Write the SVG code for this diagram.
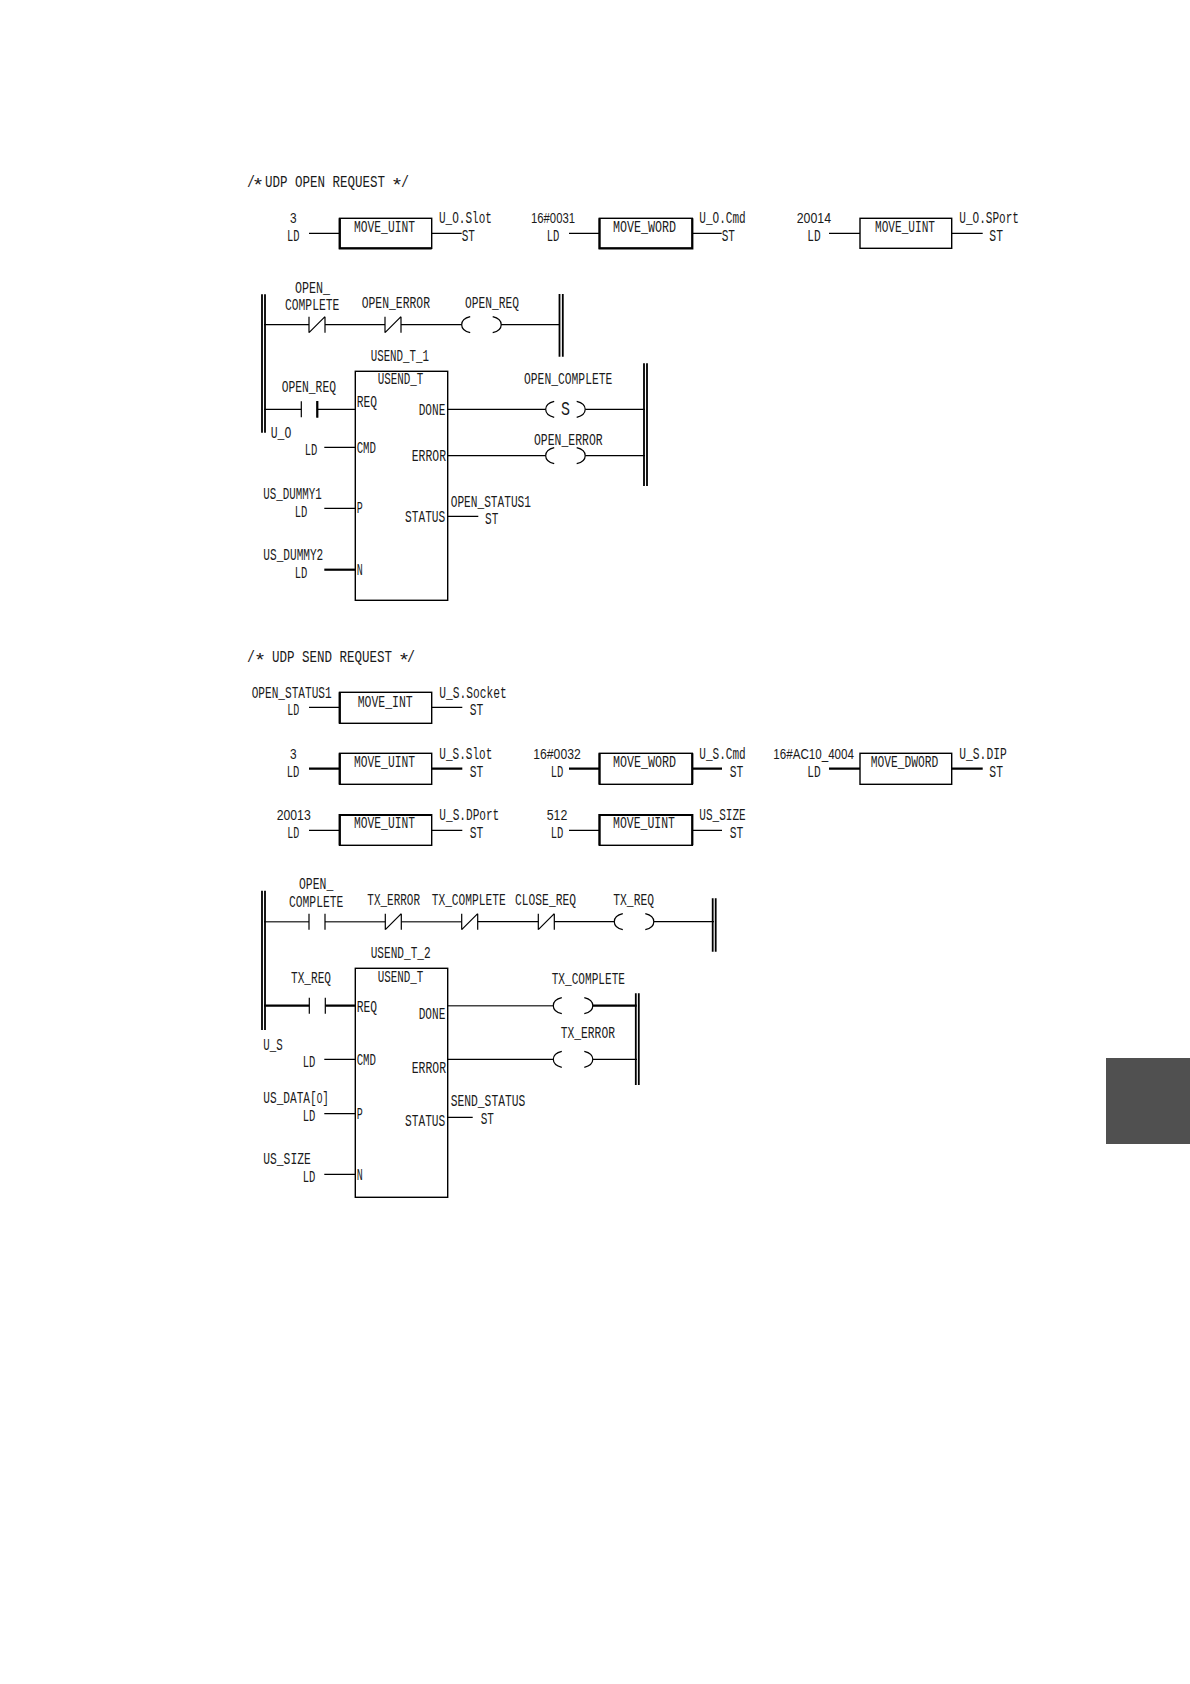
<svg xmlns="http://www.w3.org/2000/svg" width="1190" height="1684" viewBox="0 0 1190 1684">
<style>
text{font-family:"Liberation Mono",monospace;font-size:17px;fill:#1a1a1a}
text.n,tspan.n{font-family:"Liberation Sans",sans-serif;font-size:15.5px}
tspan.a{font-family:"Liberation Sans",sans-serif;font-size:19px}
.l{fill:none;stroke:#000;stroke-width:1.2}
.t{fill:none;stroke:#000;stroke-width:2.2}
.g{fill:none;stroke:#444;stroke-width:1.6}
.b{fill:#fff;stroke:#000;stroke-width:1.4}
.r{fill:none;stroke:#000;stroke-width:1.8}
</style>
<defs>
<path id="nc" class="l" d="M0,-8V8M16,-8V8M0,8L16,-8"/>
<path id="no" class="l" d="M0,-8V8M16,-8V8"/>
<path id="coil" class="l" d="M8.5,-8Q0,-6 0,0Q0,6 8.5,8M31,-8Q39.5,-6 39.5,0Q39.5,6 31,8"/>
</defs>
<rect id="page-tab" x="1106" y="1058" width="84" height="86" fill="#505050"/>
<g id="connectors">
<path class="l" d="M309,233.3H339.5M431.7,233.3H461.7M569,233.3H599.3M692.3,233.3H721.7M829,233.3H860M951.7,233.3H982.7"/>
<path class="l" d="M264,324.7H309M325,324.7H385M401,324.7H461.7M501,324.7H560"/>
<path class="l" d="M264,409.3H301.3M317.3,409.3H355.3M447.7,409.3H545.7M585.3,409.3H645M324.3,447.3H355.3M447.7,455.7H545.7M585.3,455.7H645M324.3,508.3H355.3M447.7,516.3H478.3"/>
<path class="t" d="M324.3,569.7H355.3"/>
<path class="l" d="M309,707.3H339.5M431.7,707.3H462.3"/>
<path class="t" d="M309,768.7H339.5M431.7,768.7H462.3M569,768.7H599.3M692.3,768.7H722M829,768.7H860M951.7,768.7H982.7"/>
<path class="l" d="M309,830.3H339.5M431.7,830.3H462.3M569,830.3H599.3M692.3,830.3H722"/>
<path class="g" d="M264,921.7H309M325,921.7H385.3M401.3,921.7H461.7"/>
<path class="l" d="M477.7,921.7H538.3M554.3,921.7H614.3M654,921.7H714"/>
<path class="t" d="M264,1005.7H309.3M325.3,1005.7H355.3M592.7,1005.7H636.7"/>
<path class="g" d="M447.7,1005.7H553.3"/>
<path class="l" d="M324.3,1059.3H355.3M443.3,1059.3H553.3M592.7,1059.3H637M324.3,1113.7H355.3M443.3,1117.3H472.7M324.3,1174.3H355.3"/>
</g>
<g id="title-open"><text y="187"><tspan x="247" textLength="8" lengthAdjust="spacingAndGlyphs">/</tspan><tspan class="a" x="254" y="191" textLength="8" lengthAdjust="spacingAndGlyphs">*</tspan><tspan x="265" y="187" textLength="120" lengthAdjust="spacingAndGlyphs">UDP OPEN REQUEST</tspan><tspan class="a" x="393" y="191" textLength="8" lengthAdjust="spacingAndGlyphs">*</tspan><tspan x="401" y="187" textLength="8" lengthAdjust="spacingAndGlyphs">/</tspan></text></g>
<g id="move-u-o-slot">
<rect class="b" x="339.5" y="218.3" width="92.2" height="30"/>
<path class="t" d="M339.8,218.3V248.3H431.7"/>
<text x="354" y="232" textLength="61" lengthAdjust="spacingAndGlyphs">MOVE_UINT</text>
<text class="n" x="290" y="223.3" textLength="6.6" lengthAdjust="spacingAndGlyphs">3</text>
<text x="287" y="241" textLength="12.5" lengthAdjust="spacingAndGlyphs">LD</text>
<text x="439" y="223.3" textLength="53" lengthAdjust="spacingAndGlyphs">U_O.Slot</text>
<text x="461.7" y="241" textLength="13.3" lengthAdjust="spacingAndGlyphs">ST</text>
</g>
<g id="move-u-o-cmd">
<rect class="b" x="599.3" y="218.3" width="93" height="30"/>
<path class="t" d="M599.6,218.3V248.3H692.3V218.3"/>
<text x="613" y="232" textLength="63" lengthAdjust="spacingAndGlyphs">MOVE_WORD</text>
<text class="n" x="531" y="223.3" textLength="44" lengthAdjust="spacingAndGlyphs">16#0031</text>
<text x="546.7" y="241" textLength="12.6" lengthAdjust="spacingAndGlyphs">LD</text>
<text x="699.3" y="223.3" textLength="46.4" lengthAdjust="spacingAndGlyphs">U_O.Cmd</text>
<text x="721.7" y="241" textLength="13.3" lengthAdjust="spacingAndGlyphs">ST</text>
</g>
<g id="move-u-o-sport">
<rect class="b" x="860" y="218.3" width="91.7" height="30"/>
<text x="875" y="232" textLength="60" lengthAdjust="spacingAndGlyphs">MOVE_UINT</text>
<text class="n" x="796.7" y="223.3" textLength="34.3" lengthAdjust="spacingAndGlyphs">20014</text>
<text x="807.3" y="241" textLength="13.4" lengthAdjust="spacingAndGlyphs">LD</text>
<text x="959.3" y="223.3" textLength="59.7" lengthAdjust="spacingAndGlyphs">U_O.SPort</text>
<text x="989.3" y="241" textLength="13.7" lengthAdjust="spacingAndGlyphs">ST</text>
</g>
<g id="rail-1-left"><path class="r" d="M262,294.3V432.7M265,294.3V432.7"/></g>
<g id="rail-1-right"><path class="r" d="M559.5,294V356.7M562.8,294V356.7"/></g>
<g id="contact-open-complete">
<use href="#nc" x="309" y="324.7"/>
<text x="295" y="292.7" textLength="35" lengthAdjust="spacingAndGlyphs">OPEN_</text>
<text x="285" y="310" textLength="54.3" lengthAdjust="spacingAndGlyphs">COMPLETE</text>
</g>
<g id="contact-open-error">
<use href="#nc" x="385" y="324.7"/>
<text x="361.7" y="308.3" textLength="68.3" lengthAdjust="spacingAndGlyphs">OPEN_ERROR</text>
</g>
<g id="coil-open-req">
<use href="#coil" x="461.7" y="324.7"/>
<text x="465" y="308.3" textLength="54" lengthAdjust="spacingAndGlyphs">OPEN_REQ</text>
</g>
<g id="usend-t-1">
<rect class="b" x="355.3" y="371.3" width="92.4" height="229"/>
<text x="370.7" y="361" textLength="58.3" lengthAdjust="spacingAndGlyphs">USEND_T_1</text>
<text x="377.7" y="384.3" textLength="45.6" lengthAdjust="spacingAndGlyphs">USEND_T</text>
<text x="356.7" y="406.7" textLength="20.3" lengthAdjust="spacingAndGlyphs">REQ</text>
<text x="356.7" y="453.3" textLength="19.3" lengthAdjust="spacingAndGlyphs">CMD</text>
<text x="356.7" y="513.3" textLength="6" lengthAdjust="spacingAndGlyphs">P</text>
<text x="356.7" y="575" textLength="6" lengthAdjust="spacingAndGlyphs">N</text>
<text x="418.7" y="415.3" textLength="26.6" lengthAdjust="spacingAndGlyphs">DONE</text>
<text x="411.7" y="461.3" textLength="34.3" lengthAdjust="spacingAndGlyphs">ERROR</text>
<text x="405" y="522" textLength="40.3" lengthAdjust="spacingAndGlyphs">STATUS</text>
</g>
<g id="contact-open-req">
<use href="#no" x="301.3" y="409.3"/>
<path class="t" d="M317.3,401V417.7"/>
<text x="281.7" y="391.7" textLength="54.3" lengthAdjust="spacingAndGlyphs">OPEN_REQ</text>
</g>
<g id="coil-open-complete">
<use href="#coil" x="545.7" y="409.3"/>
<text x="561" y="415.3" textLength="9" lengthAdjust="spacingAndGlyphs" style="font-size:20px">S</text>
<text x="524" y="384" textLength="88.3" lengthAdjust="spacingAndGlyphs">OPEN_COMPLETE</text>
</g>
<g id="coil-open-error">
<use href="#coil" x="545.7" y="455.7"/>
<text x="534" y="445" textLength="68.7" lengthAdjust="spacingAndGlyphs">OPEN_ERROR</text>
</g>
<g id="rail-2-right"><path class="r" d="M644,363.3V486M647,363.3V486"/></g>
<g id="in-u-o">
<text x="270.7" y="438" textLength="20.6" lengthAdjust="spacingAndGlyphs">U_O</text>
<text x="304.7" y="454.7" textLength="12.6" lengthAdjust="spacingAndGlyphs">LD</text>
</g>
<g id="in-us-dummy1">
<text x="263.3" y="499.3" textLength="58.4" lengthAdjust="spacingAndGlyphs">US_DUMMY1</text>
<text x="294.7" y="517.3" textLength="12.6" lengthAdjust="spacingAndGlyphs">LD</text>
</g>
<g id="in-us-dummy2">
<text x="263.3" y="560" textLength="60" lengthAdjust="spacingAndGlyphs">US_DUMMY2</text>
<text x="294.7" y="578" textLength="12.6" lengthAdjust="spacingAndGlyphs">LD</text>
</g>
<g id="out-open-status1">
<text x="450.7" y="506.7" textLength="80.3" lengthAdjust="spacingAndGlyphs">OPEN_STATUS1</text>
<text x="485" y="524" textLength="13.3" lengthAdjust="spacingAndGlyphs">ST</text>
</g>
<g id="title-send"><text y="661.7"><tspan x="247" textLength="8" lengthAdjust="spacingAndGlyphs">/</tspan><tspan class="a" x="256" y="665.7" textLength="8" lengthAdjust="spacingAndGlyphs">*</tspan><tspan x="272" y="661.7" textLength="120" lengthAdjust="spacingAndGlyphs">UDP SEND REQUEST</tspan><tspan class="a" x="400" y="665.7" textLength="8" lengthAdjust="spacingAndGlyphs">*</tspan><tspan x="407" y="661.7" textLength="8" lengthAdjust="spacingAndGlyphs">/</tspan></text></g>
<g id="move-u-s-socket">
<rect class="b" x="339.5" y="692.3" width="92.2" height="31"/>
<path class="t" d="M339.8,692.3V723.3"/>
<text x="357.7" y="706.7" textLength="55" lengthAdjust="spacingAndGlyphs">MOVE_INT</text>
<text x="251.7" y="698.3" textLength="80" lengthAdjust="spacingAndGlyphs">OPEN_STATUS1</text>
<text x="287.3" y="714.7" textLength="12" lengthAdjust="spacingAndGlyphs">LD</text>
<text x="439.3" y="698.3" textLength="67.4" lengthAdjust="spacingAndGlyphs">U_S.Socket</text>
<text x="469.7" y="714.7" textLength="13.6" lengthAdjust="spacingAndGlyphs">ST</text>
</g>
<g id="move-u-s-slot">
<rect class="b" x="339.5" y="753.3" width="92.2" height="31"/>
<path class="t" d="M339.8,753.3V784.3"/>
<text x="354" y="767.3" textLength="61" lengthAdjust="spacingAndGlyphs">MOVE_UINT</text>
<text class="n" x="290" y="759.3" textLength="6.6" lengthAdjust="spacingAndGlyphs">3</text>
<text x="286.7" y="777" textLength="12.6" lengthAdjust="spacingAndGlyphs">LD</text>
<text x="439.3" y="759.3" textLength="53" lengthAdjust="spacingAndGlyphs">U_S.Slot</text>
<text x="469.7" y="777" textLength="13.6" lengthAdjust="spacingAndGlyphs">ST</text>
</g>
<g id="move-u-s-cmd">
<rect class="b" x="599.3" y="753.3" width="93" height="31"/>
<path class="t" d="M599.6,753.3V784.3M692.3,753.3V784.3"/>
<text x="613" y="767.3" textLength="63" lengthAdjust="spacingAndGlyphs">MOVE_WORD</text>
<text class="n" x="533.3" y="759.3" textLength="47.4" lengthAdjust="spacingAndGlyphs">16#0032</text>
<text x="550.7" y="777" textLength="12.6" lengthAdjust="spacingAndGlyphs">LD</text>
<text x="699.3" y="759.3" textLength="46.4" lengthAdjust="spacingAndGlyphs">U_S.Cmd</text>
<text x="729.7" y="776.7" textLength="13.6" lengthAdjust="spacingAndGlyphs">ST</text>
</g>
<g id="move-u-s-dip">
<rect class="b" x="860" y="753.3" width="91.7" height="31"/>
<text x="870.7" y="767.3" textLength="67.6" lengthAdjust="spacingAndGlyphs">MOVE_DWORD</text>
<text class="n" x="773.3" y="759.3" textLength="80.7" lengthAdjust="spacingAndGlyphs">16#AC10_4004</text>
<text x="807.3" y="777" textLength="13.4" lengthAdjust="spacingAndGlyphs">LD</text>
<text x="959.3" y="759.3" textLength="47.4" lengthAdjust="spacingAndGlyphs">U_S.DIP</text>
<text x="989.3" y="776.7" textLength="13.7" lengthAdjust="spacingAndGlyphs">ST</text>
</g>
<g id="move-u-s-dport">
<rect class="b" x="339.5" y="814.7" width="92.2" height="30.6"/>
<path class="t" d="M339.8,845.3V815H431.7"/>
<text x="354" y="828.3" textLength="61" lengthAdjust="spacingAndGlyphs">MOVE_UINT</text>
<text class="n" x="276.7" y="820" textLength="34" lengthAdjust="spacingAndGlyphs">20013</text>
<text x="287.3" y="838" textLength="12" lengthAdjust="spacingAndGlyphs">LD</text>
<text x="439.3" y="820" textLength="60" lengthAdjust="spacingAndGlyphs">U_S.DPort</text>
<text x="469.7" y="838" textLength="13.6" lengthAdjust="spacingAndGlyphs">ST</text>
</g>
<g id="move-us-size">
<rect class="b" x="599.3" y="814.7" width="93" height="30.6"/>
<path class="t" d="M599.6,845.3V815H692.3V845.3"/>
<text x="613" y="828.3" textLength="62" lengthAdjust="spacingAndGlyphs">MOVE_UINT</text>
<text class="n" x="546.7" y="820" textLength="20.6" lengthAdjust="spacingAndGlyphs">512</text>
<text x="550.7" y="838" textLength="12.6" lengthAdjust="spacingAndGlyphs">LD</text>
<text x="699.3" y="820" textLength="46.4" lengthAdjust="spacingAndGlyphs">US_SIZE</text>
<text x="729.7" y="837.7" textLength="13.6" lengthAdjust="spacingAndGlyphs">ST</text>
</g>
<g id="rail-3-left"><path class="r" d="M262,890.7V1030M265,890.7V1030"/></g>
<g id="rail-3-right"><path class="r" d="M712.7,898.3V951.7M715.7,898.3V951.7"/></g>
<g id="contact-open-complete-2">
<use href="#no" x="309" y="921.7"/>
<text x="299" y="889" textLength="34.3" lengthAdjust="spacingAndGlyphs">OPEN_</text>
<text x="289" y="906.7" textLength="54.3" lengthAdjust="spacingAndGlyphs">COMPLETE</text>
</g>
<g id="contact-tx-error">
<use href="#nc" x="385.3" y="921.7"/>
<text x="367.3" y="905" textLength="52.7" lengthAdjust="spacingAndGlyphs">TX_ERROR</text>
</g>
<g id="contact-tx-complete">
<use href="#nc" x="461.7" y="921.7"/>
<text x="431.7" y="905" textLength="74" lengthAdjust="spacingAndGlyphs">TX_COMPLETE</text>
</g>
<g id="contact-close-req">
<use href="#nc" x="538.3" y="921.7"/>
<text x="515" y="905" textLength="61" lengthAdjust="spacingAndGlyphs">CLOSE_REQ</text>
</g>
<g id="coil-tx-req">
<use href="#coil" x="614.3" y="921.7"/>
<text x="613.3" y="905" textLength="40.7" lengthAdjust="spacingAndGlyphs">TX_REQ</text>
</g>
<g id="usend-t-2">
<rect class="b" x="355.3" y="968.3" width="92.4" height="229"/>
<text x="370.7" y="958.3" textLength="60" lengthAdjust="spacingAndGlyphs">USEND_T_2</text>
<text x="377.7" y="981.7" textLength="45.6" lengthAdjust="spacingAndGlyphs">USEND_T</text>
<text x="356.7" y="1011.7" textLength="20.3" lengthAdjust="spacingAndGlyphs">REQ</text>
<text x="356.7" y="1065" textLength="19.3" lengthAdjust="spacingAndGlyphs">CMD</text>
<text x="356.7" y="1118.7" textLength="6" lengthAdjust="spacingAndGlyphs">P</text>
<text x="356.7" y="1180" textLength="6" lengthAdjust="spacingAndGlyphs">N</text>
<text x="418.7" y="1019.3" textLength="26.6" lengthAdjust="spacingAndGlyphs">DONE</text>
<text x="411.7" y="1073.3" textLength="34.3" lengthAdjust="spacingAndGlyphs">ERROR</text>
<text x="405" y="1125.7" textLength="40.3" lengthAdjust="spacingAndGlyphs">STATUS</text>
</g>
<g id="contact-tx-req">
<use href="#no" x="309.3" y="1005.7"/>
<text x="291" y="983.3" textLength="40" lengthAdjust="spacingAndGlyphs">TX_REQ</text>
</g>
<g id="coil-tx-complete">
<use href="#coil" x="553.3" y="1005.7"/>
<text x="551.7" y="984" textLength="73.3" lengthAdjust="spacingAndGlyphs">TX_COMPLETE</text>
</g>
<g id="coil-tx-error">
<use href="#coil" x="553.3" y="1059.3"/>
<text x="560.7" y="1038" textLength="54.3" lengthAdjust="spacingAndGlyphs">TX_ERROR</text>
</g>
<g id="rail-4-right"><path class="r" d="M635.8,993.3V1085M638.8,993.3V1085"/></g>
<g id="in-u-s">
<text x="263.3" y="1050" textLength="19.4" lengthAdjust="spacingAndGlyphs">U_S</text>
<text x="302.7" y="1067" textLength="12.6" lengthAdjust="spacingAndGlyphs">LD</text>
</g>
<g id="in-us-data">
<text x="263.3" y="1103.3" textLength="65.7" lengthAdjust="spacingAndGlyphs">US_DATA[<tspan class="n">0</tspan>]</text>
<text x="302.7" y="1121" textLength="12.6" lengthAdjust="spacingAndGlyphs">LD</text>
</g>
<g id="in-us-size">
<text x="263.3" y="1164" textLength="47.4" lengthAdjust="spacingAndGlyphs">US_SIZE</text>
<text x="302.7" y="1181.7" textLength="12.6" lengthAdjust="spacingAndGlyphs">LD</text>
</g>
<g id="out-send-status">
<text x="450.7" y="1106" textLength="74.6" lengthAdjust="spacingAndGlyphs">SEND_STATUS</text>
<text x="480.7" y="1124" textLength="13.3" lengthAdjust="spacingAndGlyphs">ST</text>
</g>
</svg>
